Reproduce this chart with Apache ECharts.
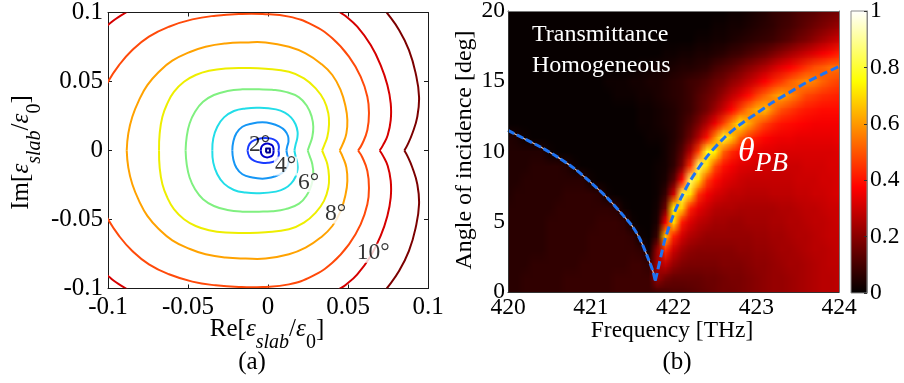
<!DOCTYPE html>
<html>
<head>
<meta charset="utf-8">
<title>Permittivity contours and transmittance map</title>
<script src="https://cdn.jsdelivr.net/npm/echarts@6/dist/echarts.min.js"></script>
<style>
  html, body { margin: 0; padding: 0; background: #fff; }
  #chart { width: 904px; height: 383px; }
</style>
</head>
<body>
<div id="chart"></div>
<script>
// ---------------- (a) iso-angle contours in the complex permittivity plane ----------------
// each closed contour is split at its right-hand cusp (on the real axis) into an upper and a lower branch
const isoCore = [[-0.0012,-0.0014],[0.0012,-0.0014],[0.0012,0.0014],[-0.0012,0.0014],[-0.0012,-0.0014]];
const iso1Upper = [[0.0035,0],[0.003,0.0032],[0.0015,0.0045],[-0.0005,0.005],[-0.0025,0.0045],[-0.004,0.0028],[-0.0045,0]];
const iso1Lower = [[0.0035,0],[0.003,-0.0032],[0.0015,-0.0045],[-0.0005,-0.005],[-0.0025,-0.0045],[-0.004,-0.0028],[-0.0045,0]];
const iso2Upper = [[0.0065,0],[0.0068,0.003],[0.0058,0.006],[0.0035,0.0081],[0,0.0089],[-0.004,0.0088],[-0.0085,0.0075],[-0.0115,0.0048],[-0.0128,0]];
const iso2Lower = [[0.0065,0],[0.0068,-0.003],[0.0058,-0.006],[0.0035,-0.0081],[0,-0.0089],[-0.004,-0.0088],[-0.0085,-0.0075],[-0.0115,-0.0048],[-0.0128,0]];
const iso3Upper = [[0.0115,0],[0.012,0.003],[0.0128,0.0065],[0.0125,0.0105],[0.0105,0.0145],[0.007,0.0175],[0.002,0.0196],[-0.0035,0.0204],[-0.0098,0.0196],[-0.016,0.0172],[-0.0198,0.0124],[-0.0217,0.0063],[-0.0223,0]];
const iso3Lower = [[0.0115,0],[0.012,-0.003],[0.0128,-0.0065],[0.0125,-0.0105],[0.0105,-0.0145],[0.007,-0.0175],[0.002,-0.0196],[-0.0035,-0.0204],[-0.0098,-0.0196],[-0.016,-0.0172],[-0.0198,-0.0124],[-0.0217,-0.0063],[-0.0223,0]];
const iso4Upper = [[0.0165,0],[0.0172,0.004],[0.0183,0.009],[0.0185,0.0135],[0.0172,0.019],[0.0145,0.0238],[0.0105,0.0275],[0.005,0.0298],[-0.0056,0.031],[-0.014,0.0305],[-0.0213,0.0286],[-0.0275,0.024],[-0.0317,0.0172],[-0.0342,0.0088],[-0.0348,0]];
const iso4Lower = [[0.0165,0],[0.0172,-0.004],[0.0183,-0.009],[0.0185,-0.0135],[0.0172,-0.019],[0.0145,-0.0238],[0.0105,-0.0275],[0.005,-0.0298],[-0.0056,-0.031],[-0.014,-0.0305],[-0.0213,-0.0286],[-0.0275,-0.024],[-0.0317,-0.0172],[-0.0342,-0.0088],[-0.0348,0]];
const iso5Upper = [[0.0248,0],[0.026,0.0039],[0.0277,0.01],[0.0283,0.0172],[0.0273,0.0245],[0.0246,0.0317],[0.0194,0.0385],[0.011,0.0425],[0.0025,0.044],[-0.0056,0.0443],[-0.016,0.0443],[-0.0254,0.0431],[-0.0338,0.0402],[-0.0406,0.0353],[-0.0456,0.0281],[-0.049,0.0196],[-0.0508,0.01],[-0.0515,0]];
const iso5Lower = [[0.0248,0],[0.026,-0.0039],[0.0277,-0.01],[0.0283,-0.0172],[0.0273,-0.0245],[0.0246,-0.0317],[0.0194,-0.0385],[0.011,-0.0425],[0.0025,-0.044],[-0.0056,-0.0443],[-0.016,-0.0443],[-0.0254,-0.0431],[-0.0338,-0.0402],[-0.0406,-0.0353],[-0.0456,-0.0281],[-0.049,-0.0196],[-0.0508,-0.01],[-0.0515,0]];
const iso6Upper = [[0.0338,0],[0.0352,0.0039],[0.0371,0.0099],[0.0381,0.0184],[0.0377,0.0269],[0.035,0.0365],[0.0298,0.045],[0.0225,0.0523],[0.0131,0.0571],[-0.0015,0.0593],[-0.014,0.0598],[-0.0265,0.0595],[-0.0369,0.0578],[-0.0452,0.0547],[-0.0525,0.0498],[-0.0588,0.0425],[-0.0629,0.0341],[-0.066,0.0245],[-0.0677,0.0124],[-0.0681,0]];
const iso6Lower = [[0.0338,0],[0.0352,-0.0039],[0.0371,-0.0099],[0.0381,-0.0184],[0.0377,-0.0269],[0.035,-0.0365],[0.0298,-0.045],[0.0225,-0.0523],[0.0131,-0.0571],[-0.0015,-0.0593],[-0.014,-0.0598],[-0.0265,-0.0595],[-0.0369,-0.0578],[-0.0452,-0.0547],[-0.0525,-0.0498],[-0.0588,-0.0425],[-0.0629,-0.0341],[-0.066,-0.0245],[-0.0677,-0.0124],[-0.0681,0]];
const iso7Upper = [[0.0448,0],[0.0469,0.0051],[0.049,0.0124],[0.0496,0.022],[0.0485,0.0317],[0.0454,0.0438],[0.0402,0.0547],[0.0329,0.0631],[0.0235,0.0704],[0.0131,0.0752],[-0.0015,0.0783],[-0.014,0.0783],[-0.0265,0.0776],[-0.039,0.0752],[-0.0494,0.0711],[-0.0598,0.0651],[-0.0681,0.0571],[-0.0754,0.0474],[-0.0806,0.0365],[-0.0848,0.0245],[-0.0873,0.0124],[-0.0883,0]];
const iso7Lower = [[0.0448,0],[0.0469,-0.0051],[0.049,-0.0124],[0.0496,-0.022],[0.0485,-0.0317],[0.0454,-0.0438],[0.0402,-0.0547],[0.0329,-0.0631],[0.0235,-0.0704],[0.0131,-0.0752],[-0.0015,-0.0783],[-0.014,-0.0783],[-0.0265,-0.0776],[-0.039,-0.0752],[-0.0494,-0.0711],[-0.0598,-0.0651],[-0.0681,-0.0571],[-0.0754,-0.0474],[-0.0806,-0.0365],[-0.0848,-0.0245],[-0.0873,-0.0124],[-0.0883,0]];
const iso8Upper = [[0.0563,0],[0.059,0.0051],[0.0621,0.0148],[0.0631,0.0269],[0.0621,0.039],[0.0579,0.0535],[0.0506,0.068],[0.0402,0.0813],[0.0277,0.091],[0.0131,0.097],[-0.0035,0.0989],[-0.0181,0.0989],[-0.0327,0.0977],[-0.0473,0.095],[-0.0619,0.0897],[-0.0744,0.0825],[-0.0848,0.0728],[-0.0931,0.0619],[-0.1,0.0499],[-0.106,0.036],[-0.11,0.018],[-0.111,0]];
const iso8Lower = [[0.0563,0],[0.059,-0.0051],[0.0621,-0.0148],[0.0631,-0.0269],[0.0621,-0.039],[0.0579,-0.0535],[0.0506,-0.068],[0.0402,-0.0813],[0.0277,-0.091],[0.0131,-0.097],[-0.0035,-0.0989],[-0.0181,-0.0989],[-0.0327,-0.0977],[-0.0473,-0.095],[-0.0619,-0.0897],[-0.0744,-0.0825],[-0.0848,-0.0728],[-0.0931,-0.0619],[-0.1,-0.0499],[-0.106,-0.036],[-0.11,-0.018],[-0.111,0]];
const iso9Upper = [[0.0698,0],[0.0719,0.0039],[0.0748,0.0111],[0.0767,0.022],[0.0767,0.0341],[0.0746,0.0474],[0.0704,0.0619],[0.0642,0.0764],[0.0558,0.0897],[0.0485,0.0974],[0.0444,0.1006],[0.04,0.104]];
const iso9Lower = [[0.0698,0],[0.0719,-0.0039],[0.0748,-0.0111],[0.0767,-0.022],[0.0767,-0.0341],[0.0746,-0.0474],[0.0704,-0.0619],[0.0642,-0.0764],[0.0558,-0.0897],[0.0485,-0.0974],[0.0444,-0.1006],[0.04,-0.104]];
const iso9CornerTop = [[-0.106,0.086],[-0.1,0.091],[-0.095,0.0955],[-0.089,0.0999],[-0.084,0.104]];
const iso9CornerBottom = [[-0.106,-0.086],[-0.1,-0.091],[-0.095,-0.0955],[-0.089,-0.0999],[-0.084,-0.104]];
const iso10Upper = [[0.0852,0],[0.0871,0.0039],[0.0902,0.0123],[0.0933,0.0244],[0.0944,0.039],[0.0923,0.0559],[0.0881,0.0728],[0.0819,0.0873],[0.0746,0.0994],[0.07,0.106]];
const iso10Lower = [[0.0852,0],[0.0871,-0.0039],[0.0902,-0.0123],[0.0933,-0.0244],[0.0944,-0.039],[0.0923,-0.0559],[0.0881,-0.0728],[0.0819,-0.0873],[0.0746,-0.0994],[0.07,-0.106]];

// inline contour labels (incidence angle) and where they sit
const contourLabelText = ['2°', '4°', '6°', '8°', '10°'];
const contourLabelRe = [-0.0052, 0.011, 0.0254, 0.0423, 0.0658];
const contourLabelIm = [0.0039, -0.0113, -0.0233, -0.0461, -0.0744];

// ---------------- (b) transmittance versus frequency and angle ----------------
const freqTHz = [420.0,420.1,420.2,420.3,420.4,420.5,420.6,420.7,420.8,420.9,421.0,421.1,421.2,421.3,421.4,421.5,421.6,421.7,421.8,421.9,422.0,422.1,422.2,422.3,422.4,422.5,422.6,422.7,422.8,422.9,423.0,423.1,423.2,423.3,423.4,423.5,423.6,423.7,423.8,423.9,424.0];
const angleDeg = [0,1,2,3,4,5,6,7,8,9,10,11,12,13,14,15,16,17,18,19,20];
// one row per angle (0..20 deg), one column per frequency (420..424 THz)
const transmittance = [
  [.06,.06,.07,.07,.07,.07,.07,.08,.08,.08,.08,.08,.08,.09,.09,.09,.09,.09,.10,.11,.12,.12,.13,.14,.15,.16,.17,.17,.18,.19,.20,.21,.22,.22,.23,.24,.25,.26,.27,.27,.28],
  [.06,.06,.07,.07,.07,.07,.07,.08,.08,.08,.08,.08,.08,.09,.09,.09,.09,.09,.22,.17,.15,.15,.15,.15,.16,.16,.17,.18,.18,.19,.20,.21,.22,.22,.23,.24,.25,.26,.27,.27,.28],
  [.06,.06,.06,.07,.07,.07,.07,.07,.07,.08,.08,.08,.08,.08,.08,.09,.09,.07,.24,.29,.22,.19,.18,.18,.18,.18,.19,.19,.19,.20,.21,.21,.22,.23,.24,.24,.25,.26,.27,.28,.28],
  [.06,.06,.06,.06,.06,.07,.07,.07,.07,.07,.08,.08,.08,.08,.08,.08,.07,.02,.22,.44,.30,.24,.21,.20,.20,.20,.20,.20,.21,.21,.22,.22,.23,.24,.24,.25,.26,.27,.27,.28,.29],
  [.06,.06,.06,.06,.06,.07,.07,.07,.07,.07,.08,.08,.08,.08,.08,.07,.02,.01,.08,.66,.42,.31,.26,.24,.22,.22,.22,.22,.22,.22,.23,.23,.24,.24,.25,.26,.26,.27,.28,.29,.29],
  [.06,.06,.06,.06,.06,.07,.07,.07,.07,.07,.07,.08,.08,.08,.07,.02,.01,.01,.04,.35,.70,.41,.32,.28,.26,.24,.24,.23,.23,.24,.24,.24,.25,.25,.26,.26,.27,.28,.28,.29,.30],
  [.06,.06,.06,.06,.06,.06,.07,.07,.07,.07,.07,.07,.07,.06,.02,.01,.01,.01,.03,.16,.72,.68,.42,.34,.30,.27,.26,.26,.25,.25,.25,.25,.25,.26,.26,.27,.28,.28,.29,.30,.30],
  [.05,.06,.06,.06,.06,.06,.06,.07,.07,.07,.07,.06,.02,.01,.01,.01,.01,.01,.02,.08,.30,.82,.70,.45,.36,.32,.30,.28,.28,.27,.27,.27,.28,.28,.28,.29,.29,.30,.30,.31,.32],
  [.05,.05,.06,.06,.06,.06,.06,.06,.06,.06,.02,.01,.01,.01,.01,.01,.01,.01,.02,.04,.13,.38,.85,.70,.47,.39,.34,.32,.30,.29,.29,.29,.29,.29,.29,.30,.30,.30,.31,.31,.32],
  [.05,.05,.05,.06,.06,.06,.06,.05,.02,.01,.01,.01,.01,.01,.01,.01,.01,.01,.02,.03,.07,.18,.44,.84,.70,.49,.40,.36,.33,.32,.31,.31,.30,.30,.30,.30,.31,.31,.31,.32,.32],
  [.05,.05,.05,.05,.05,.02,.01,.01,.01,.01,.01,.01,.01,.01,.01,.01,.01,.01,.01,.03,.06,.13,.26,.47,.78,.74,.52,.44,.39,.36,.34,.33,.33,.32,.32,.32,.32,.32,.32,.32,.33],
  [.05,.04,.02,.01,.01,.01,.01,.01,.01,.01,.01,.01,.01,.01,.01,.01,.01,.02,.02,.03,.05,.09,.16,.26,.40,.58,.78,.67,.52,.45,.41,.38,.36,.35,.35,.34,.34,.34,.34,.34,.35],
  [.01,.01,.01,.01,.01,.01,.01,.01,.01,.01,.01,.01,.01,.01,.01,.01,.02,.02,.03,.04,.05,.08,.12,.18,.26,.35,.47,.59,.72,.63,.54,.47,.43,.40,.39,.38,.37,.36,.36,.36,.36],
  [.01,.01,.01,.01,.01,.01,.01,.01,.01,.01,.01,.01,.01,.01,.01,.01,.02,.02,.03,.04,.05,.07,.09,.13,.17,.23,.30,.38,.47,.56,.63,.65,.56,.49,.46,.43,.41,.40,.39,.39,.39],
  [.01,.01,.01,.01,.01,.01,.01,.01,.01,.01,.01,.01,.01,.02,.02,.02,.03,.03,.04,.05,.06,.07,.09,.12,.15,.18,.23,.28,.33,.39,.46,.52,.58,.62,.58,.53,.48,.46,.44,.43,.42],
  [.01,.01,.01,.01,.01,.01,.01,.01,.01,.01,.01,.01,.02,.02,.02,.03,.03,.04,.04,.05,.06,.07,.09,.10,.12,.15,.17,.21,.24,.28,.32,.37,.42,.46,.51,.55,.58,.56,.52,.49,.47],
  [.01,.01,.01,.01,.01,.01,.01,.01,.01,.01,.01,.01,.01,.01,.01,.01,.02,.02,.03,.03,.04,.05,.05,.06,.07,.10,.12,.14,.17,.20,.23,.26,.30,.34,.37,.41,.45,.49,.51,.54,.54],
  [.01,.01,.01,.01,.01,.01,.01,.01,.01,.01,.01,.01,.01,.01,.01,.01,.01,.01,.01,.02,.02,.03,.03,.04,.04,.05,.06,.08,.09,.11,.13,.15,.18,.21,.24,.27,.30,.33,.36,.39,.42],
  [.01,.01,.01,.01,.01,.01,.01,.01,.01,.01,.01,.01,.01,.01,.01,.01,.01,.01,.01,.01,.01,.01,.01,.02,.02,.03,.03,.04,.05,.06,.07,.08,.09,.11,.13,.16,.18,.21,.24,.27,.30],
  [.01,.01,.01,.01,.01,.01,.01,.01,.01,.01,.01,.01,.01,.01,.01,.01,.01,.01,.01,.01,.01,.01,.01,.01,.01,.02,.02,.03,.03,.04,.05,.06,.07,.09,.10,.12,.14,.16,.18,.20,.22],
  [.01,.01,.01,.01,.01,.01,.01,.01,.01,.01,.01,.01,.01,.01,.01,.01,.01,.01,.01,.01,.01,.01,.01,.01,.01,.01,.01,.02,.02,.03,.04,.05,.07,.08,.09,.11,.12,.13,.15,.16,.17]
];

// zero-reflection branch below the resonance and the Brewster branch above it
const lowBranchFreq  = [420.0, 420.2, 420.4, 420.6, 420.8, 421.0, 421.2, 421.4, 421.5, 421.6, 421.7, 421.75, 421.78];
const lowBranchAngle = [11.5, 10.9, 10.3, 9.6, 8.8, 7.8, 6.7, 5.4, 4.7, 3.7, 2.3, 1.5, 0.8];
const brewsterFreq  = [421.78, 421.8, 421.85, 421.9, 422.0, 422.1, 422.2, 422.4, 422.6, 422.8, 423.0, 423.2, 423.4, 423.6, 423.8, 424.0];
const brewsterAngle = [0.8, 1.3, 2.6, 3.8, 5.5, 6.8, 7.9, 9.6, 10.9, 11.9, 12.7, 13.5, 14.2, 14.9, 15.5, 16.05];

const colorbarRange = [0, 1];

// ---------------- rendering ----------------
const serif = '"Liberation Serif", "Times New Roman", serif';

// MATLAB "hot" colour map
function hotColor(v) {
  const c = (t) => Math.min(1, Math.max(0, t));
  return [c(v / 0.375) * 255, c((v - 0.375) / 0.375) * 255, c((v - 0.75) / 0.25) * 255];
}
function rgb(a) { return 'rgb(' + a.map(Math.round).join(',') + ')'; }

// the transmittance grid painted as a small bitmap, stretched (bilinear) over the axes
const heatCanvas = document.createElement('canvas');
heatCanvas.width = freqTHz.length;
heatCanvas.height = angleDeg.length;
(function paint() {
  const ctx = heatCanvas.getContext('2d');
  const w = heatCanvas.width, h = heatCanvas.height;
  const img = ctx.createImageData(w, h);
  for (let j = 0; j < h; j++) {
    for (let i = 0; i < w; i++) {
      const col = hotColor(transmittance[j][i]);
      const k = ((h - 1 - j) * w + i) * 4;
      img.data[k] = col[0]; img.data[k + 1] = col[1]; img.data[k + 2] = col[2]; img.data[k + 3] = 255;
    }
  }
  ctx.putImageData(img, 0, 0);
})();

function fmtTick(v) { return String(Math.round(v * 1000) / 1000); }

// contour branches with their line colours (jet-like, from the innermost ring outwards)
const contourBranches = [
  { pts: isoCore, color: '#00008b', smooth: 0 },
  { pts: iso1Upper, color: '#0000c8' }, { pts: iso1Lower, color: '#0000c8' },
  { pts: iso2Upper, color: '#1a3cff' }, { pts: iso2Lower, color: '#1a3cff' },
  { pts: iso3Upper, color: '#1596f5' }, { pts: iso3Lower, color: '#1596f5' },
  { pts: iso4Upper, color: '#22dde8' }, { pts: iso4Lower, color: '#22dde8' },
  { pts: iso5Upper, color: '#80f080' }, { pts: iso5Lower, color: '#80f080' },
  { pts: iso6Upper, color: '#eeee00' }, { pts: iso6Lower, color: '#eeee00' },
  { pts: iso7Upper, color: '#ffa200' }, { pts: iso7Lower, color: '#ffa200' },
  { pts: iso8Upper, color: '#ff4a0a' }, { pts: iso8Lower, color: '#ff4a0a' },
  { pts: iso9Upper, color: '#d60000' }, { pts: iso9Lower, color: '#d60000' },
  { pts: iso9CornerTop, color: '#d60000' }, { pts: iso9CornerBottom, color: '#d60000' },
  { pts: iso10Upper, color: '#7c0000' }, { pts: iso10Lower, color: '#7c0000' }
];

const series = [];

series.push({
  type: 'custom', xAxisIndex: 0, yAxisIndex: 0, silent: true, clip: true, z: 3,
  data: contourBranches.map((b, i) => [i]),
  renderItem: (params, api) => {
    const b = contourBranches[api.value(0)];
    const cs = params.coordSys;
    return {
      type: 'polyline',
      shape: { points: b.pts.map((p) => api.coord(p)), smooth: b.smooth === 0 ? 0 : 0.45 },
      style: { stroke: b.color, lineWidth: 2, fill: 'none', lineJoin: 'round' },
      clipPath: { type: 'rect', shape: { x: cs.x, y: cs.y, width: cs.width, height: cs.height } }
    };
  }
});

series.push({
  type: 'scatter', xAxisIndex: 0, yAxisIndex: 0, symbolSize: 0, silent: true, z: 5,
  data: contourLabelText.map((t, i) => ({
    name: t, value: [contourLabelRe[i], contourLabelIm[i]],
    label: i === 0 ? { backgroundColor: 'transparent' } : {}
  })),
  label: {
    show: true, position: 'inside', formatter: (p) => p.name,
    fontFamily: serif, fontSize: 23.5, color: '#000',
    textBorderWidth: 0, textBorderColor: 'transparent', textShadowBlur: 0,
    backgroundColor: '#fff', padding: [0, 1], lineHeight: 19
  }
});

series.push({
  type: 'custom', xAxisIndex: 2, yAxisIndex: 2, silent: true, z: 1,
  data: [[freqTHz[0], angleDeg[0]]],
  renderItem: (params, api) => {
    const tl = api.coord([freqTHz[0], angleDeg[angleDeg.length - 1]]);
    const br = api.coord([freqTHz[freqTHz.length - 1], angleDeg[0]]);
    return {
      type: 'image',
      style: {
        image: heatCanvas, x: tl[0], y: tl[1], width: br[0] - tl[0], height: br[1] - tl[1],
        sx: 0.5, sy: 0.5, sWidth: heatCanvas.width - 1, sHeight: heatCanvas.height - 1
      }
    };
  }
});

series.push({
  type: 'line', xAxisIndex: 2, yAxisIndex: 2, silent: true, symbol: 'none', smooth: 0.3, z: 4,
  data: lowBranchFreq.map((f, i) => [f, lowBranchAngle[i]]),
  lineStyle: { color: '#d8c4c4', width: 1.2 }
});
series.push({
  type: 'line', xAxisIndex: 2, yAxisIndex: 2, silent: true, symbol: 'none', smooth: 0.3, z: 5,
  data: lowBranchFreq.map((f, i) => [f, lowBranchAngle[i]]),
  lineStyle: { color: '#1f74f2', width: 3, type: [7, 3] }
});
series.push({
  type: 'line', xAxisIndex: 2, yAxisIndex: 2, silent: true, symbol: 'none', smooth: 0.3, z: 5,
  data: brewsterFreq.map((f, i) => [f, brewsterAngle[i]]),
  lineStyle: { color: '#1f74f2', width: 3, type: [8, 4] }
});

series.push({
  type: 'custom', xAxisIndex: 4, yAxisIndex: 4, silent: true, z: 1,
  data: [colorbarRange],
  renderItem: (params, api) => {
    const tl = api.coord([colorbarRange[0], colorbarRange[1]]);
    const br = api.coord([colorbarRange[1], colorbarRange[0]]);
    return {
      type: 'rect',
      shape: { x: tl[0], y: tl[1], width: br[0] - tl[0], height: br[1] - tl[1] },
      style: {
        fill: new echarts.graphic.LinearGradient(0, 1, 0, 0, [
          { offset: 0, color: rgb(hotColor(0)) },
          { offset: 0.375, color: rgb(hotColor(0.375)) },
          { offset: 0.75, color: rgb(hotColor(0.75)) },
          { offset: 1, color: rgb(hotColor(1)) }
        ]),
        stroke: '#8a8a8a', lineWidth: 1
      }
    };
  }
});

const frameLine = (color) => ({ show: true, onZero: false, lineStyle: { color: color, width: 1 } });
const inTicks = { show: true, inside: true, length: 4, lineStyle: { color: '#1a1a1a', width: 1 } };
const noLabel = { show: false };

function richName(big, small) {
  const base = { fontFamily: serif, fill: '#000', color: '#000', verticalAlign: 'top' };
  return {
    n: Object.assign({}, base, { fontSize: big, lineHeight: big + 1 }),
    e: Object.assign({}, base, { fontSize: big, lineHeight: big + 1, fontStyle: 'italic' }),
    s: Object.assign({}, base, { fontSize: small, lineHeight: small, fontStyle: 'italic', padding: [16, 0, 0, 0] }),
    z: Object.assign({}, base, { fontSize: small, lineHeight: small, padding: [16, 0, 0, 0] })
  };
}

const option = {
  animation: false,
  backgroundColor: '#fff',
  grid: [
    { left: 108, top: 12.5, width: 320, height: 276, outerBoundsMode: 'none' },
    { left: 508, top: 11, width: 331, height: 281, outerBoundsMode: 'none' },
    { left: 851, top: 11, width: 16, height: 282, outerBoundsMode: 'none' }
  ],
  xAxis: [
    { gridIndex: 0, type: 'value', min: -0.1, max: 0.1, interval: 0.05, position: 'bottom',
      axisLine: frameLine('#1a1a1a'), axisTick: inTicks, splitLine: { show: false },
      axisLabel: { margin: 6, fontFamily: serif, fontSize: 25, color: '#000', formatter: fmtTick } },
    { gridIndex: 0, type: 'value', min: -0.1, max: 0.1, interval: 0.05, position: 'top',
      axisLine: frameLine('#1a1a1a'), axisTick: inTicks, splitLine: { show: false }, axisLabel: noLabel },
    { gridIndex: 1, type: 'value', min: 420, max: 424, interval: 1, position: 'bottom', z: 10,
      axisLine: frameLine('#333'), axisTick: { show: false }, splitLine: { show: false },
      axisLabel: { margin: 4, fontFamily: serif, fontSize: 23.5, color: '#000', formatter: fmtTick } },
    { gridIndex: 1, type: 'value', min: 420, max: 424, interval: 1, position: 'top', z: 10,
      axisLine: frameLine('#777'), axisTick: { show: false }, splitLine: { show: false }, axisLabel: noLabel },
    { gridIndex: 2, type: 'value', min: 0, max: 1, show: false }
  ],
  yAxis: [
    { gridIndex: 0, type: 'value', min: -0.1, max: 0.1, interval: 0.05, position: 'left',
      axisLine: frameLine('#1a1a1a'), axisTick: inTicks, splitLine: { show: false },
      axisLabel: { margin: 5, fontFamily: serif, fontSize: 25, color: '#000', formatter: fmtTick } },
    { gridIndex: 0, type: 'value', min: -0.1, max: 0.1, interval: 0.05, position: 'right',
      axisLine: frameLine('#1a1a1a'), axisTick: inTicks, splitLine: { show: false }, axisLabel: noLabel },
    { gridIndex: 1, type: 'value', min: 0, max: 20, interval: 5, position: 'left', z: 10,
      axisLine: frameLine('#333'), axisTick: { show: false }, splitLine: { show: false },
      axisLabel: { margin: 3, fontFamily: serif, fontSize: 23.5, color: '#000', formatter: fmtTick } },
    { gridIndex: 1, type: 'value', min: 0, max: 20, interval: 5, position: 'right', z: 10,
      axisLine: frameLine('#777'), axisTick: { show: false }, splitLine: { show: false }, axisLabel: noLabel },
    { gridIndex: 2, type: 'value', min: 0, max: 1, interval: 0.2, position: 'right', z: 10,
      axisLine: frameLine('#8a8a8a'), splitLine: { show: false },
      axisTick: { show: true, inside: true, length: 3, lineStyle: { color: '#333' } },
      axisLabel: { margin: 3, fontFamily: serif, fontSize: 23.5, color: '#000', formatter: fmtTick } }
  ],
  graphic: [
    { type: 'text', x: 267, y: 317, silent: true,
      style: { text: '{n|Re[}{e|ε}{s|slab}{n|/}{e|ε}{z|0}{n|]}', rich: richName(25, 20), align: 'center', verticalAlign: 'top' } },
    { type: 'text', x: 9, y: 152.5, rotation: Math.PI / 2, silent: true,
      style: { text: '{n|Im[}{e|ε}{s|slab}{n|/}{e|ε}{z|0}{n|]}', rich: richName(25, 20), align: 'center', verticalAlign: 'top' } },
    { type: 'text', x: 252, y: 362, silent: true,
      style: { text: '(a)', fontFamily: serif, fontSize: 25, fill: '#000', align: 'center', verticalAlign: 'middle' } },
    { type: 'text', x: 672, y: 331, silent: true,
      style: { text: 'Frequency [THz]', fontFamily: serif, fontSize: 23.5, fill: '#000', align: 'center', verticalAlign: 'middle' } },
    { type: 'text', x: 464.5, y: 150, rotation: Math.PI / 2, silent: true,
      style: { text: 'Angle of incidence [deg]', fontFamily: serif, fontSize: 24, fill: '#000', align: 'center', verticalAlign: 'middle' } },
    { type: 'text', x: 677, y: 362, silent: true,
      style: { text: '(b)', fontFamily: serif, fontSize: 25, fill: '#000', align: 'center', verticalAlign: 'middle' } },
    { type: 'text', x: 532, y: 35, silent: true, z: 20,
      style: { text: 'Transmittance', fontFamily: serif, fontSize: 24, fill: '#fff', align: 'left', verticalAlign: 'middle' } },
    { type: 'text', x: 532, y: 65.7, silent: true, z: 20,
      style: { text: 'Homogeneous', fontFamily: serif, fontSize: 24, fill: '#fff', align: 'left', verticalAlign: 'middle' } },
    { type: 'text', x: 738, y: 152.5, silent: true, z: 20,
      style: { text: 'θ', fontFamily: serif, fontSize: 34, fontStyle: 'italic', fill: '#fff', align: 'left', verticalAlign: 'middle' } },
    { type: 'text', x: 755, y: 164, silent: true, z: 20,
      style: { text: 'PB', fontFamily: serif, fontSize: 27, fontStyle: 'italic', fill: '#fff', align: 'left', verticalAlign: 'middle' } }
  ],
  series: series
};

const chart = echarts.init(document.getElementById('chart'), null, { renderer: 'canvas' });
chart.setOption(option);
</script>
</body>
</html>
